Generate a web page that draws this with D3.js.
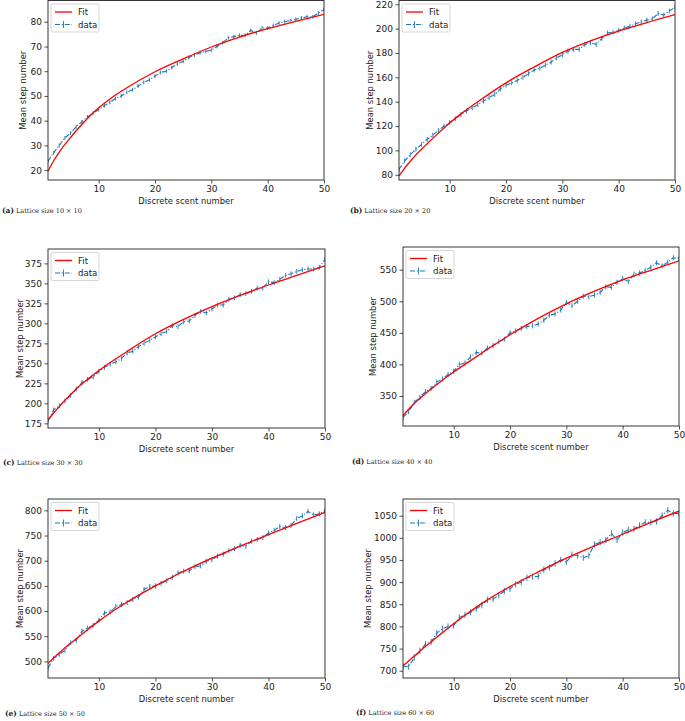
<!doctype html>
<html lang="en">
<head>
  <meta charset="utf-8" />
  <title>Mean step number vs discrete scent number</title>
  <script src="https://d3js.org/d3.v7.min.js"></script>
  <style>
    body { margin: 0; background: #fff; }
    svg text { font-family: "DejaVu Sans", sans-serif; fill: #222; }
  </style>
</head>
<body>
<div id="chart"></div>
<script>
  // x positions of the measured points (discrete scent number)
  const xs = [1, 2, 3, 4, 5, 6, 7, 8, 9, 10, 11, 12, 13, 14, 15, 16, 17, 18, 19, 20,
    21, 22, 23, 24, 25, 26, 27, 28, 29, 30, 31, 32, 33, 34, 35, 36, 37, 38, 39, 40,
    41, 42, 43, 44, 45, 46, 47, 48, 49, 50];

  // mean step number, one array per lattice size
  const data10 = [23.6, 27, 30, 33, 35, 37.5, 39.5, 41.5, 43, 44.5, 46, 47.5, 49, 50, 51.5, 52.5, 54, 55.5, 56.5, 58,
    59.5, 60, 61.5, 63, 64, 65.5, 66.5, 67.5, 68, 68.5, 70, 71.5, 73.5, 74, 74.5, 74.5, 76.5, 75.5, 77.5, 77.5,
    78.5, 79.5, 80, 80.5, 81, 81.5, 82, 82, 83.5, 85];
  const data20 = [84.3, 91.5, 96.5, 101, 105, 109, 112.5, 116.5, 120, 123, 126, 129.5, 132.5, 135, 137.5, 140.5, 143.5, 146, 150.5, 153.5,
    155.5, 157.5, 160, 163, 166, 167.5, 170, 172.5, 176, 178.5, 181.5, 183, 183, 187, 188.5, 187, 192, 196.5, 197, 198.5,
    200.5, 202, 204, 205.5, 207, 208, 212.5, 211, 214.5, 217.5];
  const data30 = [178, 192, 197, 203, 210, 218, 226, 230, 233, 240, 245, 249, 252, 256, 263, 265, 271, 275, 279, 283,
    287, 290, 297, 296, 302, 303, 310, 315, 313, 318, 323, 323, 330, 332, 336, 337, 340, 344, 344, 352,
    351, 355, 360, 362, 365, 367, 368, 368, 370, 380];
  const data40 = [316, 325, 340, 348, 357, 362, 372, 377, 384, 389, 400, 402, 412, 419, 418, 426, 430, 436, 440, 450,
    453, 457, 460, 461, 464, 470, 478, 480, 486, 498, 493, 500, 508, 507, 510, 514, 523, 522, 530, 536,
    531, 543, 545, 549, 554, 561, 556, 562, 569, 568];
  const data50 = [487, 506, 514, 522, 537, 542, 560, 566, 572, 582, 596, 598, 609, 613, 617, 623, 628, 643, 649, 650,
    655, 660, 667, 676, 679, 680, 688, 690, 699, 702, 709, 713, 720, 724, 731, 729, 739, 742, 746, 755,
    760, 768, 766, 770, 784, 789, 798, 791, 793, 800];
  const data60 = [710, 709, 730, 745, 760, 765, 785, 795, 800, 802, 820, 826, 832, 840, 848, 860, 862, 870, 880, 885,
    895, 900, 910, 912, 913, 928, 933, 942, 950, 945, 962, 960, 955, 960, 985, 990, 995, 1010, 995, 1012,
    1018, 1020, 1028, 1035, 1035, 1037, 1050, 1062, 1055, 1055];

  // fitted curve at these x values
  const fitX = [1, 2, 3, 4, 5, 6, 8, 10, 12, 15, 20, 25, 30, 35, 40, 45, 50];
  const fit10 = [19.6, 23.8, 27.3, 30.4, 33.2, 35.9, 40.9, 45.2, 48.8, 53.3, 59.8, 65, 69.8, 73.8, 77.2, 80.2, 83];
  const fit20 = [79, 85.5, 91, 96.3, 101, 105.5, 114.2, 122.5, 130, 140, 155.5, 168.5, 180.5, 190, 198, 205, 211.5];
  const fit30 = [179, 188, 196, 204, 211, 218, 230, 241, 251, 265, 287, 305, 321, 335, 348, 360, 372];
  const fit40 = [319, 329, 338, 346, 354, 361, 375, 388, 400, 418, 447, 473, 496, 516, 534, 549, 564];
  const fit50 = [496, 507, 517, 527, 536, 545, 563, 580, 596, 618, 650, 679, 705, 729, 752, 774, 796];
  const fit60 = [711, 722, 733, 744, 755, 765, 786, 806, 825, 852, 890, 923, 954, 982, 1008, 1035, 1060];

  // size of the vertical error bars, one per panel
  const yErr = [0.8, 2, 3, 4, 5, 7];

  const xTicks = [10, 20, 30, 40, 50];
  const yTicks = [
    [20, 30, 40, 50, 60, 70, 80],
    [80, 100, 120, 140, 160, 180, 200, 220],
    [175, 200, 225, 250, 275, 300, 325, 350, 375],
    [350, 400, 450, 500, 550],
    [500, 550, 600, 650, 700, 750, 800],
    [700, 750, 800, 850, 900, 950, 1000, 1050]
  ];
  const letters = ["a", "b", "c", "d", "e", "f"];
  const sizes = ["10", "20", "30", "40", "50", "60"];

  const panels = [
    { data: data10, fit: fit10, y: [16, 88.6],    box: [48, 324, 0.5, 180], cap: [2, 213],   ylab: 23 },
    { data: data20, fit: fit20, y: [75.7, 223.1], box: [399, 675, 0.5, 180], cap: [350, 213], ylab: 370 },
    { data: data30, fit: fit30, y: [169.2, 393],  box: [48, 325, 249, 428], cap: [3, 465],   ylab: 20 },
    { data: data40, fit: fit40, y: [302.4, 586],  box: [403, 679, 247, 426], cap: [352, 464], ylab: 373 },
    { data: data50, fit: fit50, y: [467, 822.6],  box: [48, 325, 499, 678], cap: [5, 716],   ylab: 20 },
    { data: data60, fit: fit60, y: [683.6, 1087.6], box: [403, 679, 499, 678], cap: [356, 715], ylab: 368 }
  ];

  const blue = "#1f77b4";
  const dash = "5,1.8,1.2,1.8";

  const svg = d3.select("#chart")
    .append("svg")
    .attr("width", 685)
    .attr("height", 721);

  panels.forEach(function (p, i) {
    const [left, right, top, bottom] = p.box;
    const x = d3.scaleLinear().domain([1, 50]).range([left, right]);
    const y = d3.scaleLinear().domain(p.y).range([bottom, top]);
    const g = svg.append("g");

    const clipId = "clip" + i;
    g.append("clipPath").attr("id", clipId)
      .append("rect")
      .attr("x", left).attr("y", top)
      .attr("width", right - left).attr("height", bottom - top);

    const plot = g.append("g").attr("clip-path", `url(#${clipId})`);

    // data line (dash-dot) with error bars
    const dataLine = d3.line()
      .x((d, j) => x(xs[j]))
      .y(d => y(d));
    plot.append("path")
      .attr("d", dataLine(p.data))
      .attr("fill", "none")
      .attr("stroke", blue)
      .attr("stroke-width", 1.1)
      .attr("stroke-dasharray", dash);

    plot.selectAll(null)
      .data(p.data)
      .join("line")
      .attr("x1", (d, j) => x(xs[j]))
      .attr("x2", (d, j) => x(xs[j]))
      .attr("y1", d => y(d - yErr[i]))
      .attr("y2", d => y(d + yErr[i]))
      .attr("stroke", blue)
      .attr("stroke-width", 0.9);

    // fit curve
    const fitLine = d3.line()
      .x((d, j) => x(fitX[j]))
      .y(d => y(d))
      .curve(d3.curveMonotoneX);
    plot.append("path")
      .attr("d", fitLine(p.fit))
      .attr("fill", "none")
      .attr("stroke", "red")
      .attr("stroke-width", 1.3);

    // axes
    const xAxis = g.append("g")
      .attr("transform", `translate(0,${bottom})`)
      .call(d3.axisBottom(x).tickValues(xTicks).tickFormat(d3.format("d")).tickSize(3.5).tickPadding(2.5));
    const yAxis = g.append("g")
      .attr("transform", `translate(${left},0)`)
      .call(d3.axisLeft(y).tickValues(yTicks[i]).tickFormat(d3.format("d")).tickSize(3.5).tickPadding(2.5));
    [xAxis, yAxis].forEach(a => {
      a.select(".domain").remove();
      a.selectAll(".tick line").attr("stroke", "#222").attr("stroke-width", 0.8);
      a.selectAll(".tick text")
        .style("font-family", '"DejaVu Sans", sans-serif')
        .style("font-size", "9px")
        .attr("fill", "#222");
    });

    // frame
    g.append("rect")
      .attr("x", left).attr("y", top)
      .attr("width", right - left).attr("height", bottom - top)
      .attr("fill", "none")
      .attr("stroke", "#222")
      .attr("stroke-width", 0.9);

    // axis labels
    g.append("text")
      .attr("x", (left + right) / 2)
      .attr("y", bottom + 23.5)
      .attr("text-anchor", "middle")
      .style("font-size", "8.4px")
      .text("Discrete scent number");
    g.append("text")
      .attr("transform", `translate(${p.ylab + 3},${(top + bottom) / 2}) rotate(-90)`)
      .attr("text-anchor", "middle")
      .style("font-size", "8.4px")
      .text("Mean step number");

    // legend
    const lg = g.append("g").attr("transform", `translate(${left + 3},${top + 3.5})`);
    lg.append("rect")
      .attr("width", 48).attr("height", 28).attr("rx", 1.5)
      .attr("fill", "white").attr("fill-opacity", 0.8)
      .attr("stroke", "#ccc").attr("stroke-width", 0.8);
    lg.append("line")
      .attr("x1", 4).attr("x2", 21).attr("y1", 8).attr("y2", 8)
      .attr("stroke", "red").attr("stroke-width", 1.3);
    lg.append("text").attr("x", 27).attr("y", 11).style("font-size", "8.6px").text("Fit");
    lg.append("line")
      .attr("x1", 4).attr("x2", 21).attr("y1", 20.5).attr("y2", 20.5)
      .attr("stroke", blue).attr("stroke-width", 1.1).attr("stroke-dasharray", dash);
    lg.append("line")
      .attr("x1", 12.5).attr("x2", 12.5).attr("y1", 17).attr("y2", 24)
      .attr("stroke", blue).attr("stroke-width", 0.9);
    lg.append("text").attr("x", 27).attr("y", 23.5).style("font-size", "8.6px").text("data");

    // caption
    const cap = g.append("text")
      .attr("x", p.cap[0])
      .attr("y", p.cap[1])
      .style("font-size", "7.5px");
    cap.append("tspan")
      .style("font-weight", "bold")
      .style("font-family", '"DejaVu Serif", serif')
      .text(`(${letters[i]})`);
    cap.append("tspan")
      .style("font-family", '"DejaVu Serif", serif')
      .attr("dx", 2)
      .style("font-size", "6.5px")
      .text(`Lattice size ${sizes[i]} × ${sizes[i]}`);
  });
</script>
</body>
</html>
